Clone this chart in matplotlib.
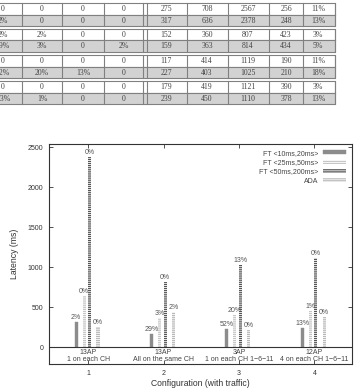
import matplotlib
matplotlib.use("Agg")
import matplotlib.pyplot as plt
from matplotlib.patches import Rectangle

plt.rcParams['font.family'] = ['Liberation Sans', 'DejaVu Sans']
plt.rcParams['hatch.linewidth'] = 0.9

# cropped table on top (with / without traffic rows)
table_rows = [
    ["0", "0", "0", "0", "275", "708", "2567", "256", "11%"],
    ["2%", "0", "0", "0", "317", "636", "2378", "248", "13%"],
    ["2%", "2%", "0", "0", "152", "360", "807", "423", "3%"],
    ["29%", "3%", "0", "2%", "159", "363", "814", "434", "5%"],
    ["0", "0", "0", "0", "117", "414", "1119", "190", "11%"],
    ["52%", "20%", "13%", "0", "227", "403", "1025", "210", "18%"],
    ["0", "0", "0", "0", "179", "419", "1121", "390", "3%"],
    ["13%", "1%", "0", "0", "239", "450", "1110", "378", "13%"],
]

# chart data (with traffic)
groups = [1, 2, 3, 4]
group_labels = ["13AP\n1 on each CH", "13AP\nAll on the same CH",
                "3AP\n1 on each CH 1\u22126\u221211", "12AP\n4 on each CH 1\u22126\u221211"]
series = ["FT <10ms,20ms>", "FT <25ms,50ms>", "FT <50ms,200ms>", "ADA"]
ft_10_20 = [317, 159, 227, 239]
ft_25_50 = [636, 363, 403, 450]
ft_50_200 = [2378, 814, 1025, 1110]
ada = [248, 434, 210, 378]
loss_10_20 = ["2%", "29%", "52%", "13%"]
loss_25_50 = ["0%", "3%", "20%", "1%"]
loss_50_200 = ["0%", "0%", "13%", "0%"]
loss_ada = ["0%", "2%", "0%", "0%"]

W, H = 355, 392
fig = plt.figure(figsize=(W / 100, H / 100), dpi=100)

# ---- table fragment (pixel coords) ----
tab = fig.add_axes([0, 0, 1, 1])
tab.set_xlim(0, W)
tab.set_ylim(H, 0)
tab.axis('off')
col_x = [3, 42, 83, 124, 166, 207, 248, 286, 318]
col_edges = [22, 62, 104, 143, 147, 187, 228, 269, 303, 335]
pair_tops = [3, 28.5, 55, 81]
row_h = 11.5
for p, top in enumerate(pair_tops):
    for k in range(2):
        y0 = top + k * row_h
        fc = 'white' if k == 0 else '#d2d2d2'
        tab.add_patch(Rectangle((-5, y0), 340, row_h, facecolor=fc,
                                edgecolor='#808080', lw=0.8))
        for e in col_edges:
            tab.plot([e, e], [y0, y0 + row_h], color='#808080', lw=0.8)
        for c, txt in enumerate(table_rows[2 * p + k]):
            tab.text(col_x[c], y0 + row_h / 2 + 0.5, txt, ha='center', va='center',
                     fontsize=5.6, color='#444444', family='Liberation Serif')

# ---- bar chart ----
ax = fig.add_axes([49 / W, 28 / H, 303 / W, 220 / H])
offsets = [-0.16, -0.055, 0.02, 0.13]
width = 0.04
styles = [
    dict(facecolor='#8c8c8c', edgecolor='#8c8c8c', lw=0.3),
    dict(facecolor='none', edgecolor='#c6c6c6', hatch='--------', lw=0),
    dict(facecolor='none', edgecolor='#555555', hatch='--------', lw=0),
    dict(facecolor='none', edgecolor='#b8b8b8', hatch='--------', lw=0),
]
values = [ft_10_20, ft_25_50, ft_50_200, ada]
losses = [loss_10_20, loss_25_50, loss_50_200, loss_ada]
for s in range(4):
    xs = [g + offsets[s] for g in groups]
    ax.bar(xs, values[s], width=width, label=series[s], **styles[s])
    for x, v, lab in zip(xs, values[s], losses[s]):
        ax.text(x, v + 15, lab, ha='center', va='bottom', fontsize=5, color='#555555')

ax.axhline(0, color='#333333', lw=0.8)
for g, lab in zip(groups, group_labels):
    ax.text(g, -108, lab, ha='center', va='center', fontsize=5, color='#444444',
            linespacing=1.05)

ax.set_xlim(0.48, 4.5)
ax.set_ylim(-212, 2540)
ax.set_xticks(groups)
ax.set_yticks([0, 500, 1000, 1500, 2000, 2500])
ax.tick_params(direction='in', length=3, width=0.6, labelsize=5, colors='#333333',
               top=True, right=True, pad=4)
for sp in ax.spines.values():
    sp.set_color('#333333')
    sp.set_linewidth(0.8)
ax.set_xlabel("Configuration (with traffic)", fontsize=6.2, color='#333333', labelpad=2)
ax.set_ylabel("Latency (ms)", fontsize=6.2, color='#333333', labelpad=6)

# markerfirst=False right-aligns the labels against the handles
leg = ax.legend(loc='upper right', markerfirst=False, frameon=False, fontsize=5,
                handlelength=3.4, handleheight=0.5, labelspacing=0.35,
                handletextpad=0.6, borderaxespad=0.4)
for t in leg.get_texts():
    t.set_color('#444444')

fig.savefig("out.png", dpi=100)
